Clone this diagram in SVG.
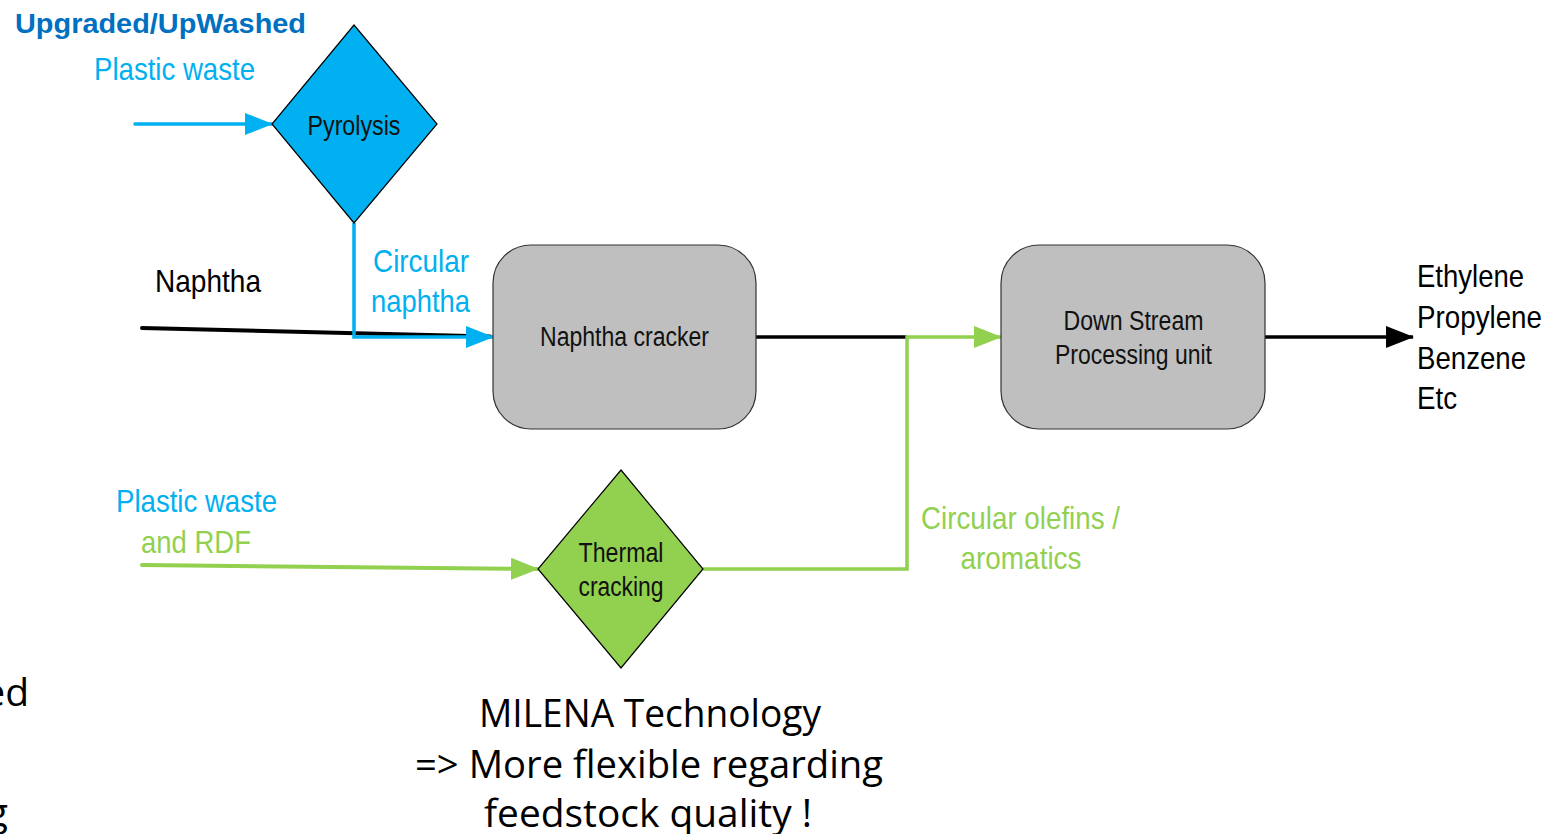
<svg xmlns="http://www.w3.org/2000/svg" width="1547" height="834" viewBox="0 0 1547 834">
<style>
  text { font-family: "Liberation Sans", Arial, sans-serif; }
  .n { font-size: 32px; }
  .blk { fill: #000; }
  .blue { fill: #00B0F0; }
  .green { fill: #92D050; }
  .lbl { font-size: 27px; fill: #111; }
  .big { font-family: "Open Sans", "Liberation Sans", sans-serif; font-size: 39px; fill: #000; }
  .box { fill: #BFBFBF; stroke: #333; stroke-width: 1.2; }
  .dia { stroke: #000; stroke-width: 1.2; }
  .conn { fill: none; }
</style>
<defs>
  <marker id="ab" markerUnits="userSpaceOnUse" markerWidth="28" markerHeight="22" refX="27" refY="11" orient="auto">
    <path d="M0,0 L28,11 L0,22 z" fill="#00B0F0"/>
  </marker>
  <marker id="ag" markerUnits="userSpaceOnUse" markerWidth="28" markerHeight="22" refX="27" refY="11" orient="auto">
    <path d="M0,0 L28,11 L0,22 z" fill="#92D050"/>
  </marker>
  <marker id="ak" markerUnits="userSpaceOnUse" markerWidth="28" markerHeight="22" refX="27" refY="11" orient="auto">
    <path d="M0,0 L28,11 L0,22 z" fill="#000"/>
  </marker>
</defs>

<g id="connectors" class="conn">
  <path d="M142,328 L490,336.5" stroke="#000" stroke-width="4" stroke-linecap="round"/>
  <path d="M135,124 H272" stroke="#00B0F0" stroke-width="3.5" stroke-linecap="round" marker-end="url(#ab)"/>
  <path d="M354,223 V337 H493" stroke="#00B0F0" stroke-width="3.5" marker-end="url(#ab)"/>
  <path d="M756,337 H907" stroke="#000" stroke-width="3.5"/>
  <path d="M703,569 H907 V337 H1001" stroke="#92D050" stroke-width="3.5" marker-end="url(#ag)"/>
  <path d="M142,565 L538,569" stroke="#92D050" stroke-width="4" stroke-linecap="round" marker-end="url(#ag)"/>
  <path d="M1265,337 H1413" stroke="#000" stroke-width="3.5" marker-end="url(#ak)"/>
</g>

<g id="pyrolysis">
  <polygon class="dia" points="354,25 437,124 354,223 272,124" fill="#00B0F0"/>
  <text class="lbl" x="354" y="135" text-anchor="middle" textLength="93" lengthAdjust="spacingAndGlyphs">Pyrolysis</text>
</g>

<g id="naphtha-cracker">
  <rect class="box" x="493" y="245" width="263" height="184" rx="38" ry="38"/>
  <text class="lbl" x="624.5" y="346" text-anchor="middle" textLength="169" lengthAdjust="spacingAndGlyphs">Naphtha cracker</text>
</g>

<g id="downstream">
  <rect class="box" x="1001" y="245" width="264" height="184" rx="38" ry="38"/>
  <text class="lbl" x="1133.5" y="330" text-anchor="middle" textLength="140" lengthAdjust="spacingAndGlyphs">Down Stream</text>
  <text class="lbl" x="1133.5" y="364" text-anchor="middle" textLength="157" lengthAdjust="spacingAndGlyphs">Processing unit</text>
</g>

<g id="thermal-cracking">
  <polygon class="dia" points="621,470 703,569 621,668 538,569" fill="#92D050"/>
  <text class="lbl" x="621" y="562" text-anchor="middle" textLength="85" lengthAdjust="spacingAndGlyphs">Thermal</text>
  <text class="lbl" x="621" y="596" text-anchor="middle" textLength="85" lengthAdjust="spacingAndGlyphs">cracking</text>
</g>

<g id="labels">
  <text x="15" y="33" font-size="27" font-weight="bold" fill="#0070C0" textLength="291" lengthAdjust="spacingAndGlyphs">Upgraded/UpWashed</text>
  <text class="n blue" x="94" y="80" textLength="161" lengthAdjust="spacingAndGlyphs">Plastic waste</text>
  <text class="n blk" x="155" y="292" font-size="33" textLength="106" lengthAdjust="spacingAndGlyphs">Naphtha</text>
  <text class="n blue" x="421" y="272" text-anchor="middle" textLength="96" lengthAdjust="spacingAndGlyphs">Circular</text>
  <text class="n blue" x="420.5" y="312" text-anchor="middle" textLength="99" lengthAdjust="spacingAndGlyphs">naphtha</text>
  <text class="n blk" x="1417" y="287" textLength="107" lengthAdjust="spacingAndGlyphs">Ethylene</text>
  <text class="n blk" x="1417" y="328" textLength="125" lengthAdjust="spacingAndGlyphs">Propylene</text>
  <text class="n blk" x="1417" y="369" textLength="109" lengthAdjust="spacingAndGlyphs">Benzene</text>
  <text class="n blk" x="1417" y="409" textLength="40" lengthAdjust="spacingAndGlyphs">Etc</text>
  <text class="n blue" x="116" y="512" textLength="161" lengthAdjust="spacingAndGlyphs">Plastic waste</text>
  <text class="n green" x="141" y="553" textLength="110" lengthAdjust="spacingAndGlyphs">and RDF</text>
  <text class="n green" x="921" y="529" textLength="199" lengthAdjust="spacingAndGlyphs">Circular olefins /</text>
  <text class="n green" x="1021" y="569" text-anchor="middle" textLength="121" lengthAdjust="spacingAndGlyphs">aromatics</text>
  <text class="big" x="650" y="727" text-anchor="middle" textLength="342" lengthAdjust="spacingAndGlyphs">MILENA Technology</text>
  <text class="big" x="649" y="778" text-anchor="middle" textLength="468" lengthAdjust="spacingAndGlyphs">=&gt; More flexible regarding</text>
  <text class="big" x="648" y="827" text-anchor="middle" textLength="328" lengthAdjust="spacingAndGlyphs">feedstock quality !</text>
  <text class="big" x="29" y="706" text-anchor="end">ed</text>
  <text class="big" x="8" y="826" text-anchor="end">g</text>
</g>
</svg>
